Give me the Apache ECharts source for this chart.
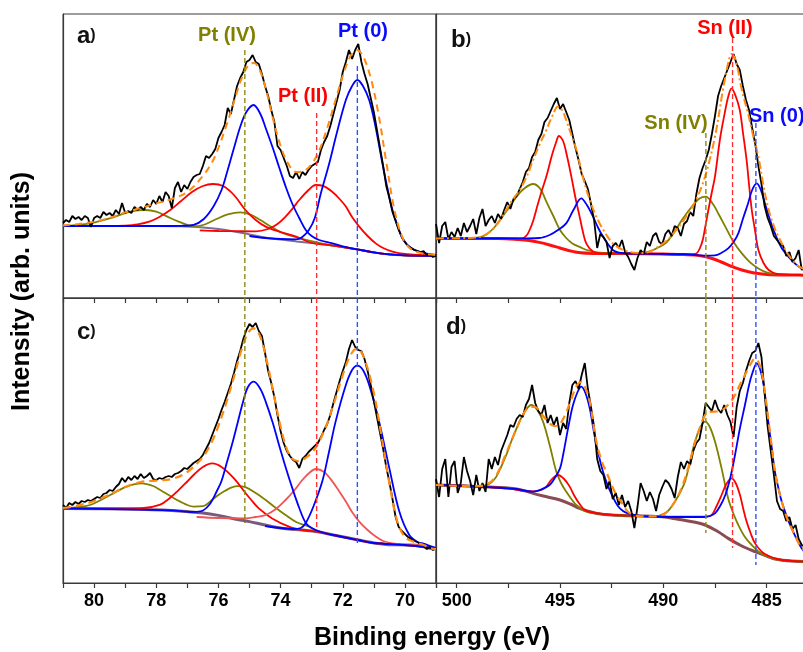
<!DOCTYPE html>
<html><head><meta charset="utf-8">
<script src="https://cdn.jsdelivr.net/npm/echarts@6/dist/echarts.min.js"></script>
<style>html,body{margin:0;padding:0;background:#fff}#chart{width:803px;height:652px}</style>
</head><body><div id="chart"></div>
<script>
// ---------- Pt 4f (panel a) ----------
const bgA = [[81,36],[78,36],[77,35.8],[76.5,35.3],[76,34.5],[75.5,33.3],[75,31.8],[74.5,30.3],[74,29.2],[73.5,28.3],[73,27.5],[72.5,26.6],[72,25.5],[71.5,24.2],[71,22.8],[70.5,21.8],[70,21.3],[69.5,21.1],[69,21]];
const oliveA = [[81,36],[80.6,36.4],[80.1,37.4],[79.5,39.8],[78.95,42.7],[78.6,43.8],[78.35,44],[78,43.2],[77.66,40.8],[77.3,38.3],[77,36.6],[76.7,35.9],[76.4,37],[76.05,39.6],[75.7,41.8],[75.3,42.8],[74.95,41.6],[74.65,39],[74.3,35.6],[73.9,32.3],[73.4,30],[72.9,28],[72.5,26.7],[72,25.5],[71.5,24.2],[71,22.8],[70.5,21.8],[70,21.3],[69,21]];
const red1A = [[81,36],[79.5,36],[79,36.2],[78.6,36.8],[78.2,38.3],[77.9,40.5],[77.55,44],[77.2,48.5],[76.85,53],[76.5,56],[76.18,57],[75.85,56],[75.5,51.5],[75.13,44],[74.8,39],[74.48,35.7],[74.05,33.2],[73.5,30.7],[73,27.5],[72.5,26.6],[72,25.5],[71.5,24.2],[71,22.8],[70.5,21.8],[70,21.3],[69,21]];
const red2A = [[76.6,33.8],[76,33.5],[75.5,33.4],[74.8,33.3],[74.4,34.5],[74.1,37],[73.84,40.7],[73.6,45],[73.4,49],[73.1,54],[72.87,56.5],[72.6,55.8],[72.33,53],[72.1,49.5],[71.9,45.7],[71.7,40.5],[71.47,35.7],[71.2,31],[70.94,27.3],[70.7,25],[70.4,23.2],[70,22],[69.5,21.5],[69,21.3]];
const blue1A = [[81,36],[78,36],[77.2,36.1],[76.8,36.6],[76.47,39.5],[76.15,46],[75.9,54],[75.72,63],[75.5,75],[75.29,86],[75.1,93],[74.87,96.5],[74.65,92],[74.48,85],[74.25,75],[74.05,65.5],[73.82,55],[73.62,47],[73.4,40],[73.19,34],[73,31],[72.76,29],[72.33,27.3],[72,25.8],[71.5,24.2],[71,22.8],[70.5,21.8],[70,21.3],[69,21]];
const blue2A = [[75,31],[74.5,30],[74,29.5],[73.5,29.3],[73.3,30.5],[73.09,34],[72.9,40],[72.71,52],[72.44,67],[72.2,82],[71.9,99],[71.7,106],[71.53,109],[71.35,106],[71.15,99],[70.95,86],[70.72,67],[70.55,54],[70.4,44],[70.2,34.5],[70.05,29],[69.8,25],[69.5,23],[69,21.5]];
const envA = [[81,36.3],[80.5,37],[80,38.2],[79.5,40],[79,42.8],[78.5,45],[78,47.3],[77.5,49.5],[77,53],[76.5,61],[76.2,68],[76,75],[75.75,86],[75.5,98],[75.25,110],[75,117],[74.85,117.5],[74.7,115],[74.5,106],[74.25,90],[74,76],[73.75,67],[73.5,63],[73.25,63.5],[73,67],[72.75,74],[72.5,85],[72.25,98],[72,111],[71.75,121],[71.55,124],[71.35,121],[71.1,110],[70.85,92],[70.6,68],[70.35,45],[70.1,31],[69.85,25],[69.5,22.5],[69,21.5]];
const blackA = [37.5,39,38,41,39.5,40.5,39,41,40,35.5,
 40,41,40,43,41.5,42.5,41,44,42,47.5,
 42.5,43.5,42.5,45.5,44,45.5,44,47,45.5,49,
 47,51,48,53,51,45,55,58,53,56.5,
 54.5,58,60.5,61.5,62,66,71,70,72,74.5,
 80,83,86.5,95,92,99,106,110,113,118,
 119,121.5,118,117,112,106,101,94,88,76,
 74,70,66,61,60,63,59.5,63,61.5,64,
 66,67,68,74,78,81,86,92,98,104,
 113,118,124,119.5,124,127,118,112,107,100,
 93,84,75,66,56,50,43,38.5,34,30.5,
 28,26,25,24,23.5,23,23.5,21.5,22,20.5,
 21];

// ---------- Pt 4f (panel c) ----------
const bgC = [[81,37.3],[79,37],[77.5,36.3],[76.5,35],[76,33.8],[75.3,31.5],[75,30.7],[74.5,29],[73.9,27.3],[73.3,26.5],[72.8,25.6],[72.3,24],[71.8,22.5],[71.5,21.5],[71,20],[70.6,19.3],[70,19],[69.5,18.8],[69.3,17.5],[69,17.3]];
const oliveC = [[81,37.3],[80.6,37.8],[80.13,39],[79.48,44],[78.95,48.2],[78.46,49.8],[78.1,48.5],[77.87,46.5],[77.6,44],[77.33,41.5],[77,39],[76.8,38.2],[76.5,38.4],[76.15,42.3],[75.8,46],[75.4,48.4],[75.13,47.9],[74.8,45],[74.48,41.5],[74.15,37.5],[73.84,34],[73.5,30.5],[73.09,28.2],[72.8,25.8],[72.3,24],[71.5,21.5],[71,20],[70,19],[69,17.3]];
const red1C = [[81,37.3],[79,37.3],[78.4,37.5],[77.87,39.2],[77.6,42],[77.33,45.7],[77.05,50],[76.8,54],[76.5,58],[76.2,59.8],[75.9,58],[75.5,52.3],[75.13,45],[74.97,42],[74.7,37.3],[74.27,32.3],[73.73,28.2],[73.3,26.5],[72.8,25.6],[72.3,24],[71.5,21.5],[71,20],[70,19],[69,17.3]];
const red2C = [[76.7,33],[76,32.5],[75.13,32.3],[74.8,33],[74.48,34],[74.15,37],[73.84,41.5],[73.55,46.5],[73.3,51.5],[73.08,55],[72.87,57],[72.6,55.5],[72.33,50.7],[72.1,45.5],[71.9,40.7],[71.7,35.5],[71.47,30.7],[71.2,26.5],[70.94,23.2],[70.7,21],[70.4,19.8],[70,19.2],[69.5,18.8],[69,17.5]];
const blue1C = [[81,37.3],[77.5,36.3],[76.9,35.5],[76.58,35.8],[76.3,39],[76.05,46],[75.9,51],[75.72,60.7],[75.55,70],[75.4,79],[75.2,91],[75.05,98],[74.86,100.7],[74.65,97],[74.48,90.7],[74.25,80],[74.05,69],[73.82,57],[73.62,47.3],[73.4,37.5],[73.19,30],[73,27.5],[72.7,25.5],[72.3,24],[71.5,21.5],[71,20],[70,19],[69,17.3]];
const blue2C = [[74.5,28.5],[74,27.5],[73.6,27],[73.35,27.5],[73.19,30],[72.95,38],[72.66,50.7],[72.45,65],[72.23,80.7],[71.9,99],[71.7,106.5],[71.53,108.7],[71.35,106.5],[71.15,99],[70.83,80.7],[70.5,57.3],[70.18,35.7],[69.86,24],[69.6,20.5],[69.43,19.8],[69,17.5]];
const envC = [[81,37.5],[80.5,38.8],[80,41],[79.5,44.2],[79,48],[78.5,50.5],[78.2,51],[78,51.2],[77.5,52],[77,55.5],[76.5,63],[76.2,71],[76,78.5],[75.75,90],[75.5,103],[75.25,117],[75.05,125],[74.86,127.3],[74.65,123],[74.4,108],[74.15,89],[73.9,72],[73.68,63.2],[73.45,61],[73.2,62.5],[72.9,67],[72.6,76],[72.3,89],[72,104],[71.75,114],[71.53,117.3],[71.3,112],[71,95],[70.75,73],[70.5,50],[70.25,31],[70,23],[69.7,20.5],[69.4,19],[69.2,17.5],[69,17]];
const blackC = [39,37.5,40,39,40.5,39.5,41,40.5,41.5,41,
 42,43,42.5,44.5,45,46.5,46,48,49.5,52.5,
 50.5,53,51.5,53.5,52,54.5,52.5,53.5,55,52,
 51.5,52.5,52,53,53.5,53,54.5,55,56,57.5,
 57,58.5,60,61,62,64,67,70,74,78,
 82,86.5,90.5,95,99.5,105,111,116,122,126.5,
 129.5,128,130,126,123.5,115,106,100,93,84,
 76,70,66,63.5,61.5,60.5,57.5,62,63.5,65.5,
 67,68.5,70,73,76.5,79.5,84,90,95.5,101,
 106,110.5,117,121.5,118,116.5,116,112,106,99,
 91,83,75,67,58,50.5,42,33,28,26,
 24.5,23,22,21,20.5,19.5,19,17,18,16.5,
 17];

// ---------- Sn 3d (panel b) ----------
const bgB = [[501,29.8],[498,29.8],[497,29.3],[496.5,28.8],[496,27.8],[495.5,26.5],[495,25],[494.4,23.3],[494,22.6],[493.4,22.3],[492,22.2],[490,22],[489,21.7],[488.5,21.5],[488,20.7],[487.6,19.6],[487.2,18],[486.7,15.8],[486.2,14],[485.6,12.5],[485,11.8],[484,11.5],[482.5,11.4]];
const oliveB = [[501,29.8],[499.5,29.8],[499,30.2],[498.6,31.5],[498.2,35],[497.9,39],[497.5,44.8],[497.1,50.7],[496.7,55],[496.3,57],[495.95,54.5],[495.66,48.2],[495.3,40.5],[495,34],[494.7,30],[494.4,27.3],[494,25.3],[493.7,24],[493.2,22.8],[492.5,22.3],[491.5,22.2],[490.7,23.2],[490.3,25],[489.9,27.3],[489.5,32.5],[489.1,39],[488.6,46],[488.25,49.8],[487.95,50.7],[487.6,47],[487.3,41.5],[487,35.7],[486.6,28],[486.2,22.3],[485.8,17.8],[485.4,14.8],[485,12.8],[484.5,11.8],[483.5,11.5],[482.5,11.4]];
const redB = [[501,29.8],[497,29.8],[496.8,29.9],[496.6,31.5],[496.47,34],[496.3,38.5],[496.15,44],[495.9,53],[495.66,60.7],[495.4,71],[495.2,77.5],[495.05,81],[494.85,78.5],[494.65,70.5],[494.45,60.7],[494.25,50],[494.05,40.7],[493.9,33.5],[493.73,27.3],[493.4,23.2],[493,22.3],[491,22.1],[489,21.7],[488.45,22],[488.14,27.3],[487.98,35],[487.82,44],[487.66,52.5],[487.5,60.7],[487.25,80],[487.0,94],[486.85,101],[486.7,104.8],[486.5,101],[486.3,94],[486.15,83],[485.97,69],[485.85,56.5],[485.72,44],[485.55,33],[485.4,24],[485.15,17.5],[484.9,14],[484.5,12],[483.5,11.5],[482.5,11.4]];
const blueB = [[501,29.8],[497,29.8],[496,30],[495.5,31.5],[495.1,34],[494.7,37.3],[494.35,44],[493.97,49.8],[493.7,46.5],[493.4,40.7],[493.15,35],[492.92,30.7],[492.44,24],[492,22.5],[491,22.2],[489,21.9],[488,21.2],[487.5,21.3],[487.2,22.5],[486.86,24.8],[486.6,28],[486.37,32.3],[486.15,39.5],[485.9,47.3],[485.7,54],[485.48,57.3],[485.3,54.5],[485.08,47.3],[484.85,39.5],[484.6,32.3],[484.3,25.5],[483.95,20.7],[483.6,17],[483.3,14.8],[482.5,12]];
const envB = [[501,29.8],[499.5,30],[499,30.3],[498.6,31.7],[498.2,35],[497.9,39],[497.6,44],[497.3,49],[496.95,54],[496.6,61],[496.3,69],[496,76.5],[495.66,84],[495.35,91.5],[495.1,95.7],[494.9,94],[494.7,89],[494.45,81.5],[494.2,74],[493.9,60.7],[493.56,49],[493.3,42],[493.08,37.3],[492.75,31.5],[492.44,27.3],[491.95,24],[491.5,22.8],[491,22.5],[490.6,23.5],[490.2,26],[489.8,29],[489.5,32.5],[489,39],[488.47,48],[487.98,60.7],[487.5,80.7],[487.1,105],[486.85,118],[486.7,122],[486.5,119],[486.2,104],[485.9,92.3],[485.65,81],[485.4,70.7],[485.15,56],[484.9,44],[484.65,36],[484.43,30.7],[484,22.5],[483.6,17.3],[483.3,15],[482.5,12]];
const blackB = [37,27.5,36,38,29.5,33,30.5,35,31,37.5,
 33,36,39.5,32,40,44.5,36,39,41,37.5,
 42,39.5,44,48,44.5,49.5,51,54.5,58,63,
 65,70.5,73,79,82,88,90,93.5,97,100,
 94.5,97,93,89,82,75,69,62,58.5,54.5,
 47,39,25,32,30.5,28,20,26,27.5,25,
 29,23,20.5,17,14,20,24,22,28,26,
 31,32.5,28,27,32,34,31,36,35,31,
 37,38.5,43,41,52,60,65,69,74,82,
 91,101,106,110,114,118,122,117,114,106,
 99,94,85,77,66,57,46,40,36,31,
 29,27,26,21,23,18,20,24,14,16,
 13];

// ---------- Sn 3d (panel d) ----------
const bgD = [[501,49],[499,48.3],[498,47.8],[497.1,47],[496.6,45.8],[496.3,44.8],[495.6,43],[495,41.5],[494.5,39.5],[494.05,37.3],[493.6,35.8],[493.2,34.8],[492.5,34],[491.5,33.6],[490.2,33.2],[489.5,32.3],[488.8,31],[488.3,30],[487.98,29],[487.4,26],[486.86,22.3],[486.2,18.5],[485.56,15.7],[485,13.5],[484.6,12],[483.8,11],[482.5,10.5]];
const oliveD = [[501,49],[499,48.3],[498.57,49],[498.3,50.5],[498.08,53.2],[497.85,58],[497.6,64],[497.35,71],[497.1,77.3],[496.75,85],[496.39,89],[496.1,86.5],[495.82,80.7],[495.5,69],[495.18,55.7],[494.95,50],[494.7,45.7],[494.45,42],[494.21,39],[493.73,35.7],[493.2,34.8],[492.5,34],[491.5,33.6],[490.4,33.3],[489.92,34.8],[489.65,37.5],[489.44,40.7],[489.2,45],[488.95,50.7],[488.7,61],[488.47,70.7],[488.2,78],[487.98,80.7],[487.75,78],[487.5,70.7],[487.18,57.3],[486.86,42.3],[486.6,34.5],[486.37,29],[486.05,23],[485.72,19],[485.3,15],[485,13.5],[484.6,12],[483.8,11],[482.5,10.5]];
const redD = [[501,49],[499,48.3],[497.5,47.3],[496.8,46],[496.3,45.8],[495.9,46.5],[495.66,48.2],[495.4,51.8],[495.1,54],[494.8,52],[494.53,48.2],[494.3,43.5],[494.05,39.5],[493.8,36.5],[493.5,35.4],[493,34.6],[492,33.8],[490.5,33.3],[489,33.2],[488.2,33.2],[487.9,33.3],[487.66,34],[487.42,38.5],[487.18,44],[486.95,49.5],[486.7,52.3],[486.5,50],[486.29,44],[486.13,37],[485.97,30.7],[485.76,24.5],[485.56,19.8],[485.24,15.7],[484.9,13.5],[484.5,12],[483.8,11],[482.5,10.5]];
const blueD = [[501,49],[499,48.3],[497.5,47.3],[497.1,47],[496.6,46],[496.3,45.7],[495.9,46.8],[495.5,49],[495.25,52.5],[495.0,57.3],[494.85,64],[494.7,72.3],[494.55,80.5],[494.37,89],[494.15,95.5],[493.97,98.2],[493.77,95],[493.56,87.3],[493.4,78],[493.24,69],[493.08,62],[492.92,55.7],[492.7,49],[492.44,43],[492.2,38.5],[491.95,36],[491.7,34.8],[491.05,33.4],[490.2,33.1],[489,33],[488,33],[487.75,33.5],[487.5,34.8],[487.25,38.5],[487.0,44],[486.75,53],[486.53,64],[486.3,77],[486.05,89],[485.85,99],[485.72,104],[485.48,109.8],[485.24,104],[485.08,94],[484.92,80.7],[484.75,67.5],[484.6,55.7],[484.42,47],[484.27,40.7],[484.0,32.5],[483.79,27.3],[483.5,21],[483.3,17.3],[483,14],[482.5,11.5]];
const envD = [[501,49],[499,48.4],[498.5,49.5],[498.1,53.5],[497.6,65],[497.1,77.3],[496.8,84],[496.47,88],[496.2,88],[495.9,84.5],[495.6,81],[495.3,78.5],[495.05,79],[494.8,83],[494.5,90.5],[494.2,98.5],[493.97,100.5],[493.75,97],[493.56,90.7],[493.24,70.7],[492.95,60],[492.76,55.7],[492.5,49],[492.27,44],[492,40],[491.7,35.5],[491.2,33.5],[490.4,33.3],[489.92,34.8],[489.44,40.7],[489.1,48],[488.8,57.3],[488.5,69],[488.3,75.7],[487.98,84],[487.75,85.5],[487.5,85.7],[487.25,86],[487.02,87.5],[486.75,90.5],[486.53,94],[486.3,99],[486.05,104],[485.8,109],[485.56,112.3],[485.4,110.5],[485.24,105.7],[485.08,95],[484.92,82],[484.75,68],[484.6,55.7],[484.42,47],[484.27,40.7],[484,32],[483.79,27.3],[483.5,21],[483.3,17.5],[482.5,12]];
const blackD = [52,43,57,62,43,58,61,45,50,63,
 56,51,44,54,46,50,45.5,62,57,63,
 59,66,70,74,79,78,82,84,83,89,
 92,99,90,86,84,89,80,84,79,83,
 74,80,77,90,99,101,97,104,110,97,
 88,78,62,56,54,47,51,42,45,39,
 44,38,41,36,27.5,38,50,46,41,45.5,
 42,36,44,48,51.5,50,47,42.5,53,60.5,
 57,61,59,66,70,72,80,90,88,86,
 91.5,87,85,89,84,80.5,73,88,96,100,
 106,111,115,116,120,113,95,78,66,54,
 41,37,36,31,33,27,29,22,19,18,
 16];

// energy grids of the measured spectra
const ptStart = 81, ptStep = 0.1;
const snStart = 501, snStep = 0.15;

// peak position markers (binding energy) and their extents
const ptPeakEnergies = [75.15, 72.84, 71.53];
const ptMarkTop = [124, 92.5, 116];
const ptMarkBottom = [30, 26.5, 19];
const snPeakEnergies = [487.94, 486.65, 485.52];
const snMarkTop = [82.5, 130, 87.5];
const snMarkBottom = [25, 17.5, 9];

// axis ticks
const ptTickLabels = [70, 72, 74, 76, 78, 80];
const snTickLabels = [485, 490, 495, 500];

// ---------------------------------------------------------
const FONT = '"Liberation Sans", Arial, Helvetica, sans-serif';
const OLIVE = '#808000', RED = '#ff0000', BLUE = '#0000ff', ORANGE = '#ff8a10';
function toPairs(vals, start, step) { return vals.map((v, i) => [+(start - i * step).toFixed(3), v]); }

const series = [];
function add(gi, data, color, width, type, smooth) {
  series.push({ type: 'line', xAxisIndex: gi, yAxisIndex: gi, data: data, showSymbol: false, symbol: 'none',
    smooth: smooth ? 0.35 : false, lineStyle: { color: color, width: width, type: type || 'solid' },
    silent: true, animation: false });
}
// panel a (grid 0)
add(0, bgA, '#77709a', 2, 'solid', true);
add(0, oliveA, OLIVE, 1.8, 'solid', true);
add(0, red1A, RED, 1.8, 'solid', true);
add(0, red2A, RED, 1.8, 'solid', true);
add(0, blue1A, BLUE, 1.8, 'solid', true);
add(0, blue2A, BLUE, 1.8, 'solid', true);
add(0, toPairs(blackA, ptStart, ptStep), '#000', 1.8, 'solid', false);
add(0, envA, ORANGE, 2, [7, 5], true);
// panel b (grid 1)
add(1, bgB, '#ff1010', 3, 'solid', true);
add(1, oliveB, OLIVE, 1.8, 'solid', true);
add(1, redB, RED, 1.8, 'solid', true);
add(1, blueB, BLUE, 1.8, 'solid', true);
add(1, toPairs(blackB, snStart, snStep), '#000', 1.8, 'solid', false);
add(1, envB, ORANGE, 2, [8, 3, 2, 3], true);
// panel c (grid 2)
add(2, bgC, '#7a5a7c', 3, 'solid', true);
add(2, oliveC, OLIVE, 1.8, 'solid', true);
add(2, red1C, RED, 1.8, 'solid', true);
add(2, red2C, '#f05555', 1.8, 'solid', true);
add(2, blue1C, BLUE, 1.8, 'solid', true);
add(2, blue2C, BLUE, 1.8, 'solid', true);
add(2, toPairs(blackC, ptStart, ptStep), '#000', 1.8, 'solid', false);
add(2, envC, ORANGE, 2.2, [8, 5], true);
// panel d (grid 3)
add(3, bgD, '#8a4c52', 3, 'solid', true);
add(3, oliveD, OLIVE, 1.8, 'solid', true);
add(3, redD, RED, 1.8, 'solid', true);
add(3, blueD, BLUE, 1.8, 'solid', true);
add(3, toPairs(blackD, snStart, snStep), '#000', 1.8, 'solid', false);
add(3, envD, ORANGE, 2.2, [8, 5], true);

const markColors = ['#8a8a10', '#ff3333', '#3050ff'];
ptPeakEnergies.forEach((e, i) => {
  add(0, [[e, ptMarkTop[i]], [e, 0]], markColors[i], 1.4, [5, 3], false);
  add(2, [[e, 142.5], [e, ptMarkBottom[i]]], markColors[i], 1.4, [5, 3], false);
});
snPeakEnergies.forEach((e, i) => {
  add(1, [[e, snMarkTop[i]], [e, 0]], markColors[i], 1.4, [5, 3], false);
  add(3, [[e, 142.5], [e, snMarkBottom[i]]], markColors[i], 1.4, [5, 3], false);
});

const grids = [
  { left: 63, top: 14, width: 373, height: 284 },
  { left: 436, top: 14, width: 382.3, height: 284 },
  { left: 63, top: 298, width: 373, height: 285 },
  { left: 436, top: 298, width: 382.3, height: 285 }
].map(g => Object.assign(g, { show: true, borderColor: '#3a3a3a', borderWidth: 1, containLabel: false, outerBoundsMode: 'none' }));

function xAx(gi, left, showLabels) {
  return {
    type: 'value', gridIndex: gi, inverse: true,
    min: left ? 69 : 482.5, max: left ? 81 : 501, interval: left ? 1 : 2.5,
    axisLine: { show: true, onZero: false, lineStyle: { color: '#3a3a3a', width: 1.2 } },
    axisTick: { show: true, length: 5, inside: false, lineStyle: { color: '#3a3a3a', width: 1.2 } },
    splitLine: { show: false },
    axisLabel: {
      show: showLabels, margin: 9, color: '#000', fontSize: 18, fontWeight: 'bold', fontFamily: FONT,
      showMinLabel: true, showMaxLabel: true,
      formatter: v => {
        const r = Math.round(v * 10) / 10;
        const list = left ? ptTickLabels : snTickLabels;
        return list.indexOf(r) >= 0 ? String(r) : '';
      }
    }
  };
}
function yAx(gi, max) {
  return { type: 'value', gridIndex: gi, min: 0, max: max,
    axisLine: { show: true, lineStyle: { color: '#3a3a3a', width: 1.2 } },
    axisTick: { show: false }, axisLabel: { show: false }, splitLine: { show: false } };
}

function txt(x, y, text, color, size, extra) {
  return Object.assign({ type: 'text', x: x, y: y, silent: true,
    style: { text: text, fill: color, fontSize: size, fontWeight: 'bold', fontFamily: FONT, align: 'center', verticalAlign: 'middle' } }, extra || {});
}
function panelLabel(x, y, letter) {
  return { type: 'text', x: x, y: y, silent: true,
    style: { text: '{a|' + letter + '}{p|)}', fill: '#111', align: 'left', verticalAlign: 'middle',
      rich: { a: { fontSize: 24, fontWeight: 'bold', fontFamily: FONT, fill: '#111' },
              p: { fontSize: 16, fontWeight: 'bold', fontFamily: FONT, fill: '#111' } } } };
}

const option = {
  backgroundColor: '#fff',
  animation: false,
  grid: grids,
  xAxis: [xAx(0, true, false), xAx(1, false, false), xAx(2, true, true), xAx(3, false, true)],
  yAxis: [yAx(0, 142), yAx(1, 142), yAx(2, 142.5), yAx(3, 142.5)],
  series: series,
  graphic: [
    txt(227, 35, 'Pt (IV)', OLIVE, 20),
    txt(363, 31, 'Pt (0)', '#0a0aff', 20),
    txt(303, 96, 'Pt (II)', RED, 20),
    txt(725, 28.5, 'Sn (II)', RED, 20),
    txt(676, 123.5, 'Sn (IV)', OLIVE, 20),
    txt(749, 116.7, 'Sn (0)', '#0a0aff', 20),
    panelLabel(77, 36, 'a'),
    panelLabel(451, 40, 'b'),
    panelLabel(77, 332, 'c'),
    panelLabel(446, 327, 'd'),
    txt(432, 638, 'Binding energy (eV)', '#000', 25),
    txt(22.5, 291.5, 'Intensity (arb. units)', '#000', 25, { rotation: Math.PI / 2 })
  ]
};
option.graphic[5].style.align = 'left';

const chart = echarts.init(document.getElementById('chart'), null, { renderer: 'canvas' });
chart.setOption(option);
</script></body></html>
